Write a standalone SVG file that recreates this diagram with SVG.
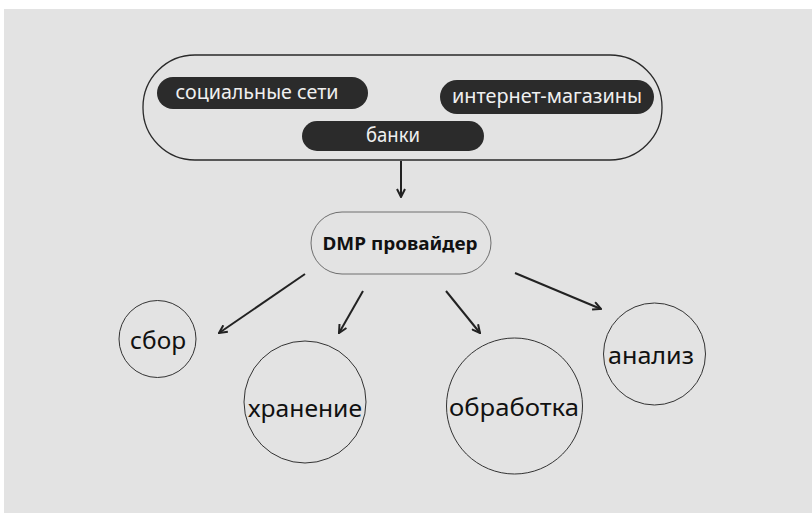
<svg xmlns="http://www.w3.org/2000/svg" width="812" height="513" viewBox="0 0 812 513">
  <style>
    .bg { fill: #e3e3e3; }
    .outer { fill: none; stroke: #2a2a2a; stroke-width: 1.3; }
    .chip { fill: #2b2b2b; }
    .chiptext { font-family: "Noto Sans", "Open Sans", sans-serif; font-size: 19px; fill: #f0f0f0; text-anchor: middle; dominant-baseline: central; }
    .dmp { fill: none; stroke: #6e6e6e; stroke-width: 1; }
    .dmptext { font-family: "Noto Sans", "Open Sans", sans-serif; font-size: 18px; font-weight: bold; fill: #111; text-anchor: middle; dominant-baseline: central; }
    .circ { fill: none; stroke: #333; stroke-width: 1; }
    .ctext { font-family: "Noto Sans", "Open Sans", sans-serif; font-size: 24px; fill: #111; text-anchor: middle; dominant-baseline: central; }
    .conn { stroke: #222; stroke-width: 2; fill: none; marker-end: url(#arr); }
  </style>
  <defs>
    <marker id="arr" viewBox="0 0 10 10" refX="9" refY="5" markerWidth="5" markerHeight="5" orient="auto" markerUnits="strokeWidth">
      <path d="M1,1 L9,5 L1,9" fill="none" stroke="#222" stroke-width="2"/>
    </marker>
  </defs>
  <rect class="bg" x="4" y="9" width="808" height="504"/>

  <g id="sources">
    <rect class="outer" x="143" y="55" width="519" height="105" rx="52" ry="52"/>
    <g id="social">
      <rect class="chip" x="157" y="77" width="211" height="32" rx="16"/>
      <text class="chiptext" x="257" y="92" textLength="163" lengthAdjust="spacingAndGlyphs">социальные сети</text>
    </g>
    <g id="shops">
      <rect class="chip" x="440" y="80" width="214" height="34" rx="17"/>
      <text class="chiptext" x="547" y="96" textLength="190" lengthAdjust="spacingAndGlyphs">интернет-магазины</text>
    </g>
    <g id="banks">
      <rect class="chip" x="302" y="121" width="182" height="30" rx="15"/>
      <text class="chiptext" x="393" y="135" textLength="54" lengthAdjust="spacingAndGlyphs">банки</text>
    </g>
  </g>

  <g id="dmp">
    <rect class="dmp" x="311" y="212" width="180" height="62" rx="31"/>
    <text class="dmptext" x="400" y="243" textLength="155" lengthAdjust="spacingAndGlyphs">DMP провайдер</text>
  </g>

  <g id="sbor">
    <circle class="circ" cx="157.5" cy="339" r="38.5"/>
    <text class="ctext" x="158" y="339" textLength="56" lengthAdjust="spacingAndGlyphs">сбор</text>
  </g>
  <g id="hranenie">
    <circle class="circ" cx="305" cy="402" r="61"/>
    <text class="ctext" x="305" y="407" textLength="114" lengthAdjust="spacingAndGlyphs">хранение</text>
  </g>
  <g id="obrabotka">
    <circle class="circ" cx="514.5" cy="406" r="68"/>
    <text class="ctext" x="514" y="406" textLength="130" lengthAdjust="spacingAndGlyphs">обработка</text>
  </g>
  <g id="analiz">
    <circle class="circ" cx="654.5" cy="354" r="51"/>
    <text class="ctext" x="651" y="354" textLength="86" lengthAdjust="spacingAndGlyphs">анализ</text>
  </g>

  <g id="connectors">
    <line class="conn" x1="401" y1="161" x2="401" y2="197"/>
    <line class="conn" x1="305" y1="274" x2="219" y2="333"/>
    <line class="conn" x1="363" y1="291" x2="339" y2="333"/>
    <line class="conn" x1="446" y1="291" x2="480" y2="333"/>
    <line class="conn" x1="515" y1="273" x2="601" y2="309"/>
  </g>
</svg>
